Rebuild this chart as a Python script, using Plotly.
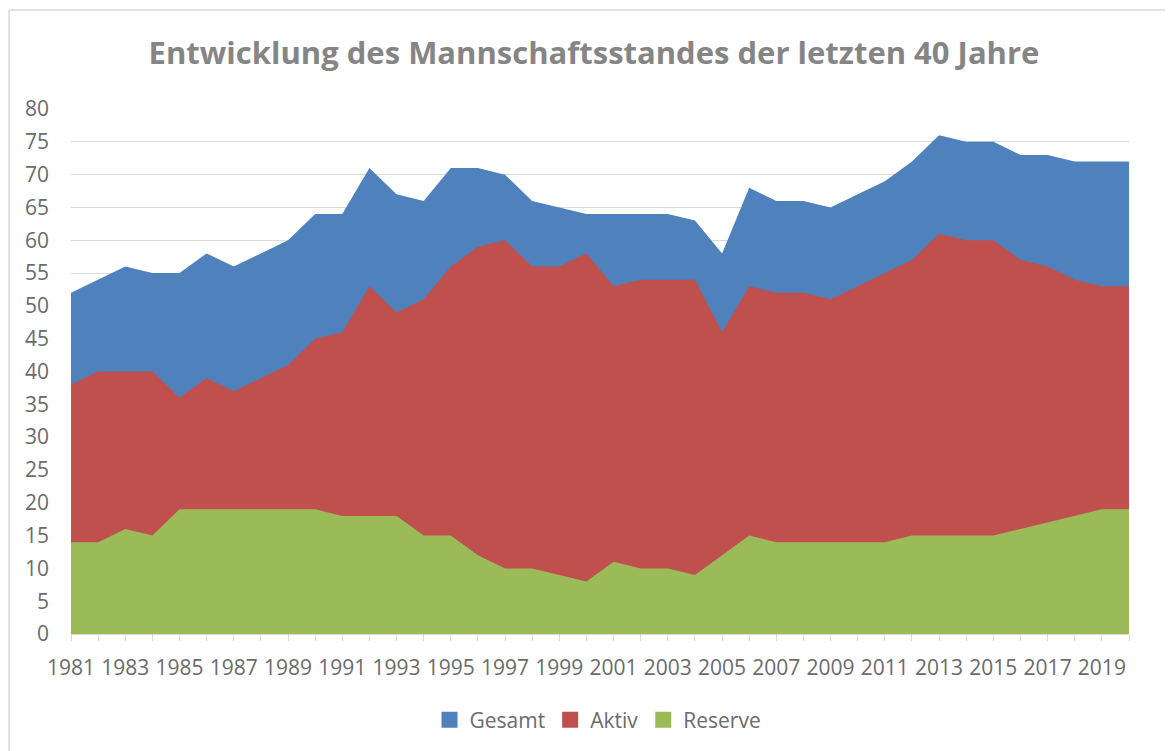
import plotly.graph_objects as go

years = list(range(1981, 2021))
gesamt = [52, 54, 56, 55, 55, 58, 56, 58, 60, 64,
          64, 71, 67, 66, 71, 71, 70, 66, 65, 64,
          64, 64, 64, 63, 58, 68, 66, 66, 65, 67,
          69, 72, 76, 75, 75, 73, 73, 72, 72, 72]
aktiv = [38, 40, 40, 40, 36, 39, 37, 39, 41, 45,
         46, 53, 49, 51, 56, 59, 60, 56, 56, 58,
         53, 54, 54, 54, 46, 53, 52, 52, 51, 53,
         55, 57, 61, 60, 60, 57, 56, 54, 53, 53]
reserve = [14, 14, 16, 15, 19, 19, 19, 19, 19, 19,
           18, 18, 18, 15, 15, 12, 10, 10, 9, 8,
           11, 10, 10, 9, 12, 15, 14, 14, 14, 14,
           14, 15, 15, 15, 15, 16, 17, 18, 19, 19]
series_names = ["Gesamt", "Aktiv", "Reserve"]
colors = ["#4F81BD", "#C0504D", "#9BBB59"]
tick_labels = [str(y) if (y - 1981) % 2 == 0 else "" for y in years]
title_text = "Entwicklung des Mannschaftsstandes der letzten 40 Jahre"

W, H = 1173, 751
OFF = 8  # page body margin
# target plot area in screenshot pixels: x 71..1129, y 109..634
L = 71 - OFF
T = 109 - OFF
R = W + OFF - 1129
B = H + OFF - 634
pw, ph = W - L - R, H - T - B

fig = go.Figure()
for name, vals, col in zip(series_names, [gesamt, aktiv, reserve], colors):
    fig.add_trace(go.Scatter(
        x=years, y=vals, mode="lines", fill="tozeroy",
        fillcolor=col, line=dict(width=0, color=col),
        name=name, showlegend=False, hoverinfo="x+y+name"))
for name, col in zip(series_names, colors):
    fig.add_trace(go.Scatter(
        x=[None], y=[None], mode="markers", name=name,
        marker=dict(symbol="square", size=16, color=col)))

def px_x(x):
    # screenshot x -> paper
    return (x - OFF - L) / pw

def px_y(y):
    # screenshot y -> paper
    return (H - B - (y - OFF)) / ph

fig.update_layout(
    width=W, height=H,
    margin=dict(l=L, r=R, t=T, b=B),
    paper_bgcolor="white", plot_bgcolor="white",
    font=dict(family="Open Sans", color="#6b6b6b", size=21),
    title=dict(text="<b>" + title_text + "</b>", x=(594 - OFF) / W,
               xanchor="center",
               y=1 - (53 - OFF) / H, yanchor="middle",
               font=dict(family="Open Sans", size=31, color="#858585")),
    legend=dict(orientation="h", x=px_x(598), xanchor="center",
                y=px_y(720), yanchor="middle",
                font=dict(size=21, color="#6b6b6b"),
                itemwidth=30, tracegroupgap=0),
    xaxis=dict(range=[1981, 2020], tickvals=years, ticktext=tick_labels,
               showgrid=False, showline=True, linecolor="#d9d9d9", linewidth=1,
               ticks="outside", ticklen=6, tickcolor="#d9d9d9",
               ticklabelstandoff=9,
               tickangle=0, zeroline=False, fixedrange=True),
    yaxis=dict(range=[0, 80], dtick=5, tick0=0, showgrid=True,
               gridcolor="#d9d9d9", gridwidth=1, zeroline=False,
               showline=False, ticklabelstandoff=21, fixedrange=True),
    shapes=[
        dict(type="line", xref="paper", yref="paper",
             x0=px_x(9), x1=px_x(W + 20), y0=px_y(10), y1=px_y(10),
             line=dict(color="#d9d9d9", width=1.5)),
        dict(type="line", xref="paper", yref="paper",
             x0=px_x(9), x1=px_x(9), y0=px_y(10), y1=px_y(H + 20),
             line=dict(color="#d9d9d9", width=1.5)),
    ],
)

fig.write_html("out.html")
